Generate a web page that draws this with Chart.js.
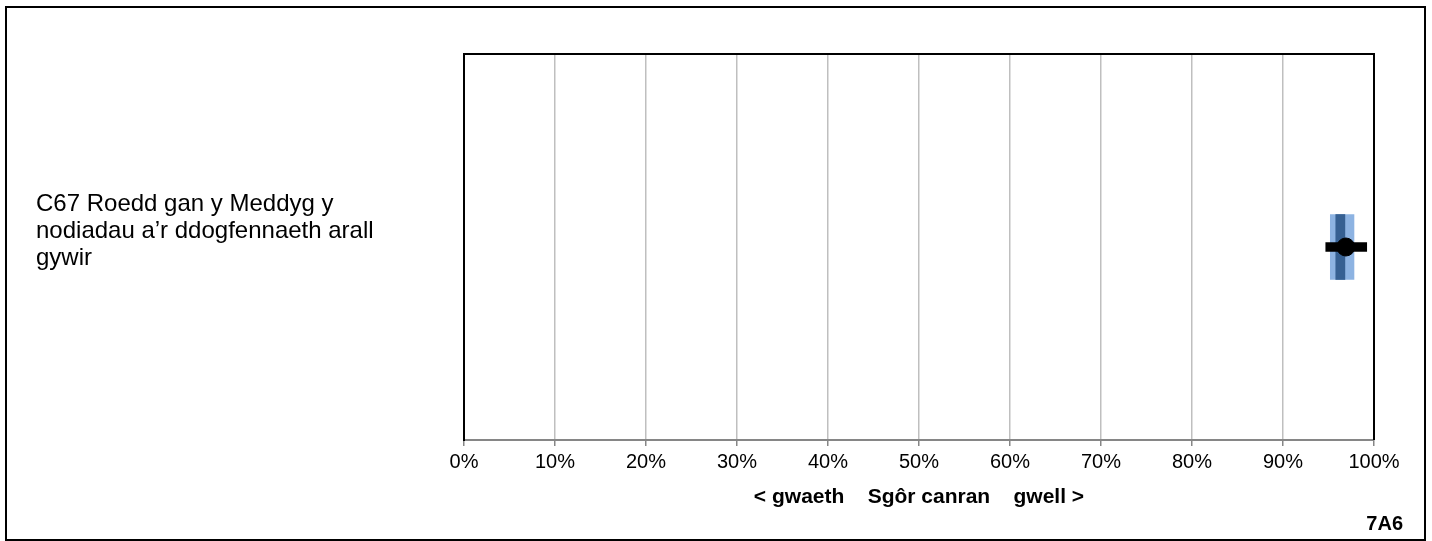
<!DOCTYPE html>
<html>
<head>
<meta charset="utf-8">
<script src="https://cdn.jsdelivr.net/npm/chart.js@4.4.1/dist/chart.umd.min.js"></script>
<style>
  html, body { margin: 0; padding: 0; background: #fff; }
  #wrap { position: relative; width: 1432px; height: 541px; }
  #frame { position: absolute; left: 5px; top: 6px; width: 1417px; height: 531px; border: 2px solid #000; pointer-events: none; }
  canvas { position: absolute; left: 0; top: 0; }
</style>
</head>
<body>
<div id="wrap">
  <canvas id="myChart" width="1432" height="541"></canvas>
  <div id="frame"></div>
</div>
<script>
  // question label and score values (percent)
  const questionLabels = [["C67 Roedd gan y Meddyg y", "nodiadau a’r ddogfennaeth arall", "gywir"]];
  const scoreValues = [96.9];
  const rangeLow = [94.7];
  const rangeHigh = [99.2];
  const outerBandLow = [95.2];
  const outerBandHigh = [97.8];
  const innerBandLow = [95.8];
  const innerBandHigh = [96.8];
  const tickValues = [0, 10, 20, 30, 40, 50, 60, 70, 80, 90, 100];
  const axisTitle = "< gwaeth    Sgôr canran    gwell >";
  const chartCode = "7A6";

  const fontFamily = '"Liberation Sans", Arial, Helvetica, sans-serif';
  const pair = (lo, hi) => lo.map((v, i) => [v, hi[i]]);

  // top/right plot border + corner code
  const extras = {
    id: 'extras',
    afterDraw(chart) {
      const { ctx, chartArea } = chart;
      ctx.save();
      ctx.strokeStyle = '#000';
      ctx.lineWidth = 2;
      ctx.beginPath();
      ctx.moveTo(chartArea.left, chartArea.top);
      ctx.lineTo(chartArea.right, chartArea.top);
      ctx.lineTo(chartArea.right, chartArea.bottom);
      ctx.stroke();
      ctx.fillStyle = '#000';
      ctx.font = 'bold 20px ' + fontFamily;
      ctx.textAlign = 'right';
      ctx.textBaseline = 'middle';
      ctx.fillText(chartCode, 1403, 524);
      ctx.restore();
    }
  };

  const myChart = new Chart(document.getElementById('myChart'), {
    type: 'bar',
    data: {
      labels: questionLabels,
      datasets: [
        {
          label: 'outer',
          data: pair(outerBandLow, outerBandHigh),
          backgroundColor: '#8db3e2',
          barThickness: 65,
          grouped: false,
          order: 4
        },
        {
          label: 'inner',
          data: pair(innerBandLow, innerBandHigh),
          backgroundColor: '#366092',
          barThickness: 65,
          grouped: false,
          order: 3
        },
        {
          label: 'range',
          data: pair(rangeLow, rangeHigh),
          backgroundColor: '#000',
          barThickness: 9,
          grouped: false,
          order: 2
        },
        {
          type: 'line',
          label: 'score',
          indexAxis: 'y',
          data: scoreValues,
          showLine: false,
          pointRadius: 9,
          pointBackgroundColor: '#000',
          pointBorderColor: '#000',
          order: 1
        }
      ]
    },
    options: {
      indexAxis: 'y',
      responsive: false,
      animation: false,
      layout: { padding: { left: 36, right: 58, top: 54, bottom: 21 } },
      plugins: {
        legend: { display: false },
        tooltip: { enabled: false }
      },
      scales: {
        x: {
          type: 'linear',
          min: 0,
          max: 100,
          afterBuildTicks: (scale) => { scale.ticks = tickValues.map(v => ({ value: v })); },
          afterFit: (scale) => { scale.height = 80; },
          ticks: {
            color: '#000',
            padding: 4,
            font: { family: fontFamily, size: 20 },
            callback: (v) => v + '%'
          },
          grid: { color: '#bfbfbf', lineWidth: 1.5, tickLength: 6, tickColor: '#868686' },
          border: { color: '#868686', width: 2 },
          title: {
            display: true,
            text: axisTitle,
            color: '#000',
            font: { family: fontFamily, size: 21, weight: 'bold' },
            padding: { top: 4, bottom: 10 }
          }
        },
        y: {
          type: 'category',
          afterFit: (scale) => { scale.width = 464 - 36; },
          ticks: {
            color: '#000',
            crossAlign: 'far',
            labelOffset: -16,
            font: { family: fontFamily, size: 24, lineHeight: 1.13 }
          },
          grid: { display: false },
          border: { color: '#000', width: 2 }
        }
      }
    },
    plugins: [extras]
  });
</script>
</body>
</html>
